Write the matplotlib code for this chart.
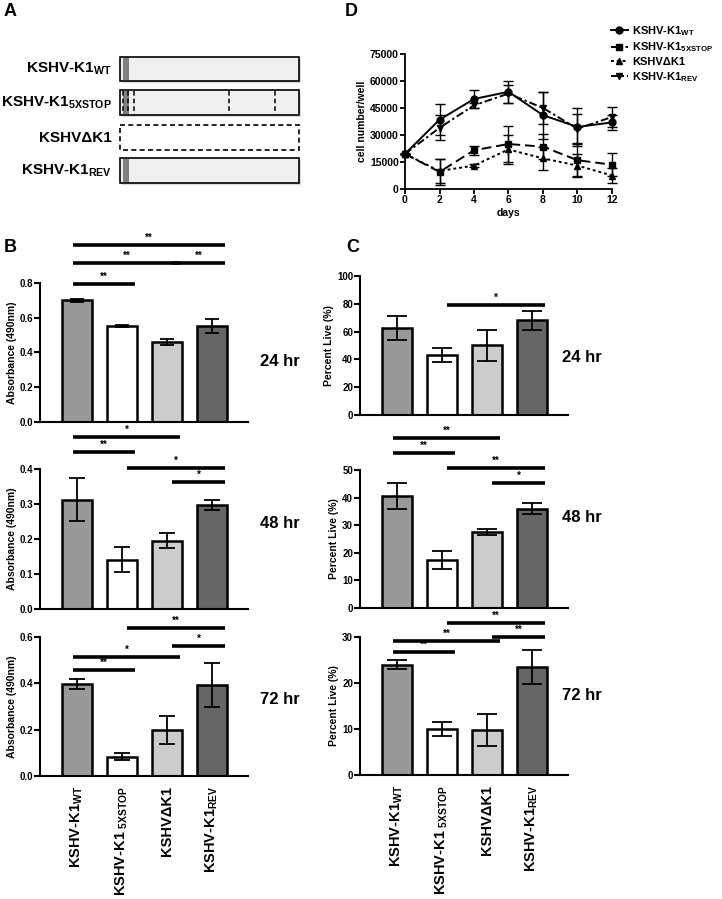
import matplotlib
matplotlib.use("Agg")
import matplotlib.pyplot as plt
from matplotlib.patches import Rectangle
import numpy as np

plt.rcParams['font.family'] = ['Liberation Sans', 'DejaVu Sans']
plt.rcParams['font.weight'] = 'bold'
plt.rcParams['axes.labelweight'] = 'bold'
plt.rcParams['mathtext.fontset'] = 'custom'
plt.rcParams['mathtext.rm'] = 'Liberation Sans'
plt.rcParams['mathtext.bf'] = 'Liberation Sans:bold'

# ---- data ----
strains = ['WT', '5XSTOP', 'dK1', 'REV']
bar_labels = ['KSHV-K1$_{\\mathbf{WT}}$', 'KSHV-K1$_{\\ \\mathrm{5XSTOP}}$',
              'KSHVΔK1', 'KSHV-K1$_{\\mathrm{REV}}$']
bar_colors = ['#999999', '#ffffff', '#cccccc', '#666666']

# B: absorbance (490nm)
abs_24 = [0.70, 0.555, 0.46, 0.555]
abs_24_err = [0.01, 0.006, 0.015, 0.04]
abs_48 = [0.312, 0.141, 0.195, 0.297]
abs_48_err = [0.061, 0.035, 0.022, 0.015]
abs_72 = [0.397, 0.083, 0.20, 0.392]
abs_72_err = [0.022, 0.015, 0.06, 0.095]

# C: percent live
live_24 = [62.5, 43.0, 50.0, 68.0]
live_24_err = [8.5, 5.0, 11.0, 7.0]
live_48 = [40.5, 17.5, 27.5, 36.0]
live_48_err = [4.7, 3.2, 1.0, 2.0]
live_72 = [24.0, 10.0, 9.8, 23.5]
live_72_err = [1.0, 1.6, 3.4, 3.7]

# significance: (from, to, height in data units, stars)
sig_b24 = [(0, 3, 1.019, '**'), (0, 2, 0.915, '**'), (2, 3, 0.915, '**'), (0, 1, 0.794, '**')]
sig_b48 = [(0, 2, 0.491, '*'), (0, 1, 0.449, '**'), (1, 3, 0.403, '*'), (2, 3, 0.363, '*')]
sig_b72 = [(1, 3, 0.639, '**'), (2, 3, 0.561, '*'), (0, 2, 0.514, '*'), (0, 1, 0.458, '**')]
sig_c24 = [(1, 3, 79.1, '*')]
sig_c48 = [(0, 2, 61.6, '**'), (0, 1, 56.2, '**'), (1, 3, 50.7, '**'), (2, 3, 45.3, '*')]
sig_c72 = [(1, 3, 33.0, '**'), (2, 3, 30.0, '**'), (0, 2, 29.1, '**'), (0, 1, 26.7, '**')]

# D: growth curve
days = [0, 2, 4, 6, 8, 10, 12]
wt_cells = [19500, 38500, 50000, 54000, 41000, 34500, 37000]
wt_err = [0, 8500, 5000, 6000, 13000, 10500, 4000]
stop_cells = [19500, 9500, 21500, 25000, 23500, 16000, 13500]
stop_err = [0, 7000, 2500, 10000, 7000, 9000, 6500]
dk1_cells = [19500, 10000, 13000, 22000, 17000, 13000, 7500]
dk1_err = [0, 6500, 1000, 8000, 6500, 6500, 4000]
rev_cells = [19500, 34000, 46500, 53000, 45000, 33500, 40000]
rev_err = [0, 7000, 1500, 5000, 9000, 8000, 5500]
legend_labels = ['KSHV-K1$_{\\mathrm{WT}}$', 'KSHV-K1$_{\\mathrm{5XSTOP}}$',
                 'KSHVΔK1', 'KSHV-K1$_{\\mathrm{REV}}$']

W, H = 722, 899
fig = plt.figure(figsize=(W / 100, H / 100), dpi=100)

# overlay in pixel coordinates for schematic and labels (drawn on top)
ov = fig.add_axes([0, 0, 1, 1])
ov.set_xlim(0, W)
ov.set_ylim(H, 0)
ov.axis('off')
ov.set_zorder(10)


def add_ax(l, t, r, b):
    ax = fig.add_axes([l / W, 1 - b / H, (r - l) / W, (b - t) / H])
    ax.patch.set_alpha(0)
    return ax


def style(ax, lw=1.5):
    for s in ['top', 'right']:
        ax.spines[s].set_visible(False)
    for s in ['left', 'bottom']:
        ax.spines[s].set_linewidth(lw)
    ax.tick_params(axis='y', width=lw, length=4, labelsize=7, pad=1)


# ---- panel A ----
ov.text(4, 12, 'A', fontsize=13, va='center')
rows = [(57, 81), (90, 115), (125, 150), (158, 183)]
a_labels = ['KSHV-K1$_{\\mathbf{WT}}$', 'KSHV-K1$_{\\mathbf{5XSTOP}}$',
            'KSHVΔK1', 'KSHV-K1$_{\\mathbf{REV}}$']
for k, ((t, b), lab) in enumerate(zip(rows, a_labels)):
    if k == 2:
        ov.add_patch(Rectangle((120, t), 179, b - t, facecolor='white',
                               edgecolor='black', lw=1.2, ls=(0, (3, 2))))
    else:
        ov.add_patch(Rectangle((122, t + 2), 179, b - t, facecolor='#bbbbbb',
                               edgecolor='none', alpha=0.5))
        ov.add_patch(Rectangle((120, t), 179, b - t, facecolor='#f0f0f0',
                               edgecolor='black', lw=1.2))
        ov.add_patch(Rectangle((123, t + 1), 6, b - t - 2, facecolor='#808080',
                               edgecolor='none'))
    if k == 1:
        for xs in [123, 128, 134, 229, 275]:
            ov.plot([xs, xs], [t + 1, b - 1], color='black', lw=1.1, ls=(0, (3, 2)))
    ov.text(112, (t + b) / 2, lab, fontsize=11, ha='right', va='center')


# ---- panels B and C ----
def bar_panel(box, vals, errs, ymax, step, sig, time_lab, time_xy, ylabel,
              fmt, capsize, xlabels=False):
    ax = add_ax(*box)
    x = np.arange(len(vals))
    ax.bar(x, vals, width=0.67, color=bar_colors, edgecolor='black',
           linewidth=1.8, zorder=2)
    ax.errorbar(x, vals, yerr=errs, fmt='none', ecolor='black', elinewidth=1.3,
                capsize=capsize, capthick=1.3, zorder=3)
    ax.set_xlim(-0.82, 3.8)
    ax.set_ylim(0, ymax)
    ticks = np.arange(0, ymax + step / 2, step)
    ax.set_yticks(ticks)
    ax.set_yticklabels([fmt.format(t) for t in ticks])
    style(ax)
    ax.set_ylabel(ylabel, fontsize=7.5, labelpad=2)
    ax.tick_params(axis='x', length=0)
    if xlabels:
        ax.set_xticks(x)
        ax.set_xticklabels(bar_labels, rotation=90, fontsize=10.5, va='top', ha='center')
        ax.tick_params(axis='x', pad=7)
    else:
        ax.set_xticks([])
    for i, j, y, s in sig:
        x0 = i - 0.08 if i == 0 else i + 0.12
        x1 = j + 0.28
        ax.plot([x0, x1], [y, y], color='black', lw=2.6, clip_on=False,
                solid_capstyle='butt')
        ax.annotate(s, xy=((x0 + x1) / 2, y), xytext=(0, 1.5), textcoords='offset points',
                    ha='center', va='bottom', fontsize=7, annotation_clip=False)
    ov.text(time_xy[0], time_xy[1], time_lab, fontsize=12, va='center')
    return ax


ov.text(4, 248, 'B', fontsize=13, va='center')
ov.text(346, 248, 'C', fontsize=13, va='center')

bar_panel((40, 283, 248, 422), abs_24, abs_24_err, 0.8, 0.2, sig_b24, '24 hr',
          (260, 362), 'Absorbance (490nm)', '{:.1f}', 5)
bar_panel((40, 469, 248, 609), abs_48, abs_48_err, 0.4, 0.1, sig_b48, '48 hr',
          (260, 523), 'Absorbance (490nm)', '{:.1f}', 6)
bar_panel((40, 637, 248, 776), abs_72, abs_72_err, 0.6, 0.2, sig_b72, '72 hr',
          (260, 700), 'Absorbance (490nm)', '{:.1f}', 6, xlabels=True)

bar_panel((360, 276, 568, 415), live_24, live_24_err, 100, 20, sig_c24, '24 hr',
          (562, 357), 'Percent Live (%)', '{:.0f}', 7)
bar_panel((360, 470, 568, 608), live_48, live_48_err, 50, 10, sig_c48, '48 hr',
          (562, 518), 'Percent Live (%)', '{:.0f}', 7)
bar_panel((360, 637, 568, 775), live_72, live_72_err, 30, 10, sig_c72, '72 hr',
          (562, 696), 'Percent Live (%)', '{:.0f}', 7, xlabels=True)

# ---- panel D ----
ov.text(345, 12, 'D', fontsize=13, va='center')
axd = add_ax(405, 54, 612, 189)
series = [
    (wt_cells, wt_err, 'o', '-'),
    (stop_cells, stop_err, 's', (0, (5, 2.5))),
    (dk1_cells, dk1_err, '^', (0, (1.5, 1.5))),
    (rev_cells, rev_err, 'v', (0, (4, 1.5, 1.2, 1.5))),
]
handles = []
for (vals, err, mk, ls), lab in zip(series, legend_labels):
    eb = axd.errorbar(days, vals, yerr=err, color='black', marker=mk, ms=5,
                      ls=ls, lw=1.4, elinewidth=1.0, capsize=3.5, capthick=1.0,
                      clip_on=False, label=lab)
    handles.append(eb[0])
axd.set_xlim(0, 12)
axd.set_ylim(0, 75000)
axd.set_xticks(days)
axd.set_yticks([0, 15000, 30000, 45000, 60000, 75000])
style(axd, lw=1.3)
axd.tick_params(axis='both', labelsize=7.5, width=1.3, length=3.5, pad=1)
axd.set_xlabel('days', fontsize=7.5, labelpad=2)
axd.set_ylabel('cell number/well', fontsize=7.5, labelpad=2)
fig.legend(handles, legend_labels, loc='upper left', bbox_to_anchor=(611 / W, 1 - 24 / H),
           frameon=False, fontsize=8, handlelength=1.5, handletextpad=0.4,
           labelspacing=0.25, borderpad=0, borderaxespad=0)

fig.savefig('out.png', dpi=100)
